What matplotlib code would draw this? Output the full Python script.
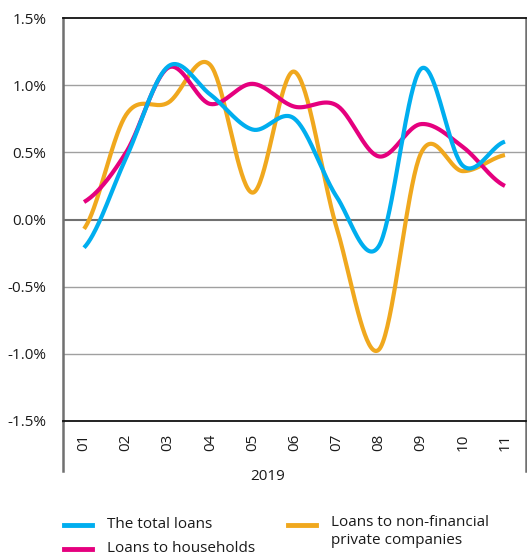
import numpy as np
import matplotlib
matplotlib.use("Agg")
from matplotlib import pyplot as plt
from matplotlib.lines import Line2D

plt.rcParams['font.family'] = ['Open Sans', 'DejaVu Sans']

months = ['01', '02', '03', '04', '05', '06', '07', '08', '09', '10', '11']
year_label = '2019'
total_loans = [-0.21, 0.46, 1.14, 0.93, 0.67, 0.75, 0.17, -0.20, 1.12, 0.40, 0.58]
households = [0.13, 0.50, 1.13, 0.86, 1.01, 0.84, 0.85, 0.47, 0.71, 0.54, 0.25]
non_financial = [-0.07, 0.78, 0.87, 1.15, 0.20, 1.10, -0.06, -0.97, 0.49, 0.36, 0.48]

series_names = ['The total loans', 'Loans to households',
                'Loans to non-financial\nprivate companies']
colors = ['#00aeef', '#e5007e', '#f0a81e']
text_color = '#1a1a1a'


def smooth(y, n=40):
    # catmull-rom style smoothing, like the spreadsheet "smoothed line"
    y = np.asarray(y, dtype=float)
    x = np.arange(len(y), dtype=float)
    xs, ys = [], []
    for i in range(len(y) - 1):
        p0 = y[i - 1] if i > 0 else y[i]
        p3 = y[i + 2] if i + 2 < len(y) else y[i + 1]
        p1, p2 = y[i], y[i + 1]
        c1 = p1 + (p2 - p0) / 6.0
        c2 = p2 - (p3 - p1) / 6.0
        t = np.linspace(0, 1, n)
        b = ((1 - t) ** 3 * p1 + 3 * (1 - t) ** 2 * t * c1
             + 3 * (1 - t) * t ** 2 * c2 + t ** 3 * p2)
        xs.append(x[i] + t)
        ys.append(b)
    return np.concatenate(xs), np.concatenate(ys)


fig = plt.figure(figsize=(5.27, 5.55), dpi=100)
ax = fig.add_axes([63 / 527, 1 - 421 / 555, 463 / 527, 403 / 555])

# draw order: orange at back, then magenta, blue on top
for vals, c in [(non_financial, colors[2]), (households, colors[1]), (total_loans, colors[0])]:
    xs, ys = smooth(vals)
    ax.plot(xs, ys, color=c, lw=3, solid_capstyle='butt', zorder=3)

ax.set_xlim(-0.5, len(months) - 0.5)
ax.set_ylim(-1.5, 1.5)
yt = [-1.5, -1.0, -0.5, 0.0, 0.5, 1.0, 1.5]
ax.set_yticks(yt)
ax.set_yticklabels([f'{v:.1f}%' for v in yt], fontsize=11, color=text_color)
ax.set_xticks(range(len(months)))
ax.set_xticklabels(months, rotation=90, fontsize=11, color=text_color)
ax.tick_params(axis='y', length=0, pad=12)
ax.tick_params(axis='x', length=0, pad=9)

for v in [-1.0, -0.5, 0.5, 1.0]:
    ax.axhline(v, color='#a0a0a0', lw=1, zorder=1)
ax.axhline(0, color='#707070', lw=1.5, zorder=1)

ax.spines['top'].set_color('#111111')
ax.spines['top'].set_linewidth(1.3)
ax.spines['bottom'].set_color('#111111')
ax.spines['bottom'].set_linewidth(1.3)
for s in ['left', 'right']:
    ax.spines[s].set_color('#707070')
    ax.spines[s].set_linewidth(1.8)

# extend the side spines below the plot area
ext = 50 / 403
for xx in [0, 1]:
    ax.add_line(Line2D([xx, xx], [0, -ext], transform=ax.transAxes,
                       color='#707070', lw=1.8, clip_on=False))

fig.text(268 / 527, 1 - 477 / 555, year_label, ha='center', va='center',
         fontsize=11, color=text_color)


# legend
def legend_handle(x0, y, color):
    fig.add_artist(Line2D([x0 / 527, (x0 + 28) / 527], [1 - y / 555, 1 - y / 555],
                          color=color, lw=3.5))


legend_handle(64, 525, colors[0])
fig.text(107 / 527, 1 - 525 / 555, series_names[0], ha='left', va='center',
         fontsize=11, color=text_color)
legend_handle(64, 549, colors[1])
fig.text(107 / 527, 1 - 549 / 555, series_names[1], ha='left', va='center',
         fontsize=11, color=text_color)
legend_handle(288, 525, colors[2])
fig.text(331 / 527, 1 - 515 / 555, series_names[2], ha='left', va='top',
         fontsize=11, color=text_color, linespacing=1.25)

fig.savefig('out.png', dpi=100)
